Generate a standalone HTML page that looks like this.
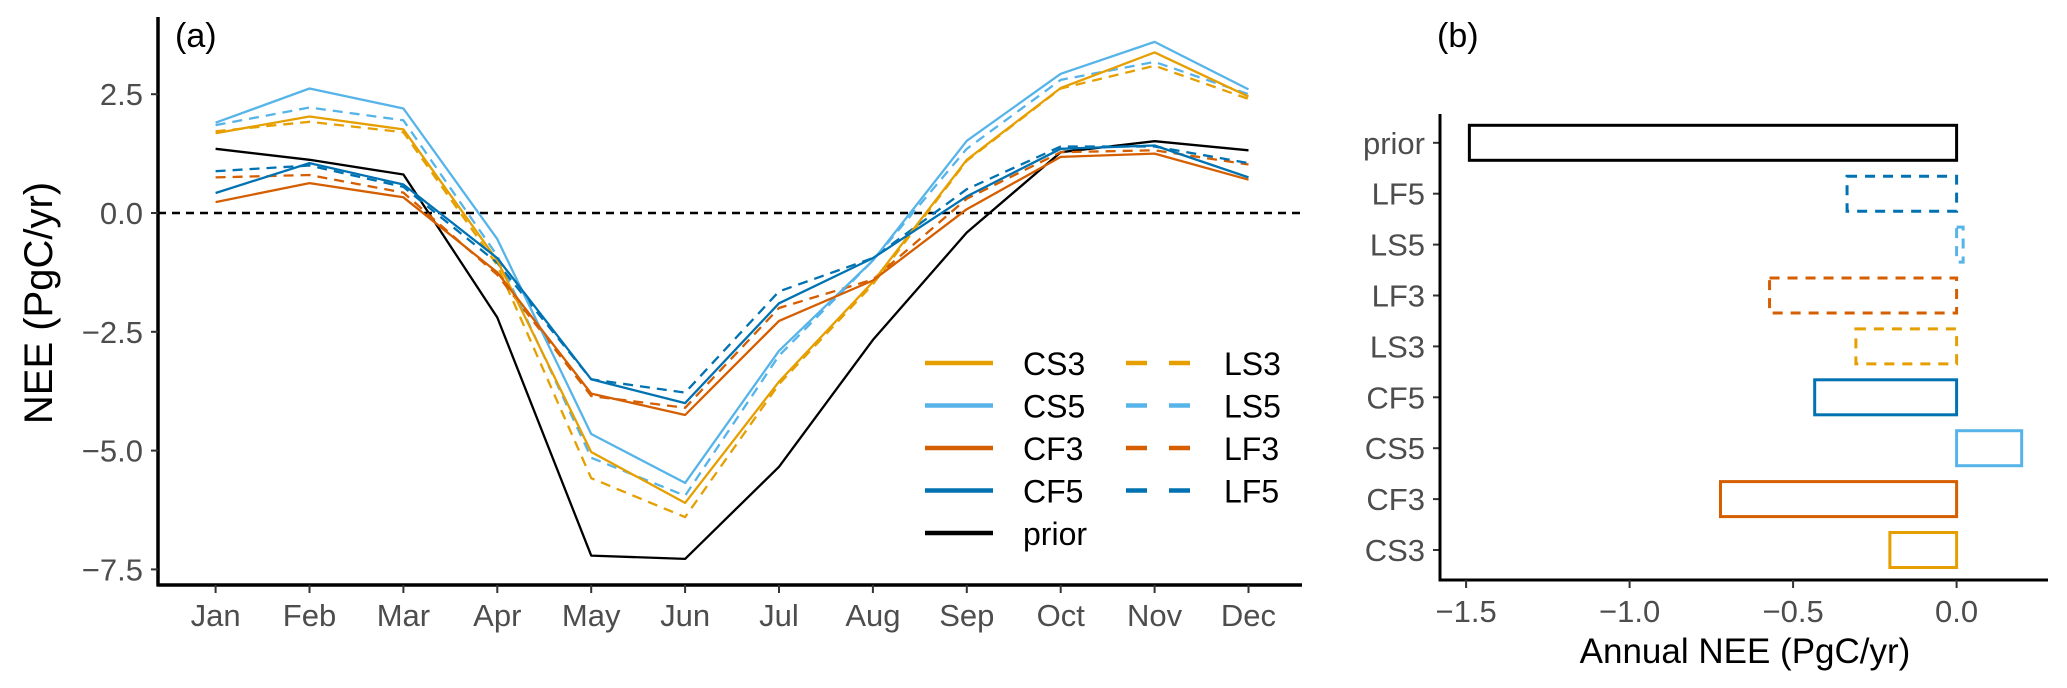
<!DOCTYPE html>
<html><head><meta charset="utf-8">
<style>
html,body{margin:0;padding:0;background:#fff;}
svg{display:block;font-family:"Liberation Sans",sans-serif;}
</style></head>
<body>
<svg id="chart" width="2067" height="688" viewBox="0 0 2067 688" xmlns="http://www.w3.org/2000/svg">
<g id="pa"></g>
<g id="pb"></g>
</svg>
<script>
const months = ["Jan","Feb","Mar","Apr","May","Jun","Jul","Aug","Sep","Oct","Nov","Dec"];
const seriesNames = ["CS3","CS5","CF3","CF5","LS3","LS5","LF3","LF5","prior"];
const prior = [1.35,1.12,0.81,-2.2,-7.21,-7.28,-5.34,-2.67,-0.41,1.28,1.51,1.32];
const cs3 = [1.68,2.03,1.76,-1.0,-5.03,-6.1,-3.55,-1.45,1.12,2.63,3.38,2.45];
const cs5 = [1.9,2.62,2.2,-0.55,-4.65,-5.68,-2.9,-1.0,1.52,2.93,3.6,2.6];
const cf3 = [0.23,0.63,0.33,-1.25,-3.8,-4.25,-2.27,-1.42,0.08,1.18,1.25,0.7];
const cf5 = [0.42,1.05,0.6,-0.95,-3.5,-4.0,-1.9,-0.95,0.35,1.35,1.42,0.75];
const ls3 = [1.72,1.92,1.7,-1.1,-5.58,-6.4,-3.6,-1.5,1.1,2.62,3.1,2.4];
const ls5 = [1.85,2.22,1.95,-0.9,-5.15,-5.95,-3.0,-1.0,1.35,2.8,3.18,2.5];
const lf3 = [0.75,0.8,0.43,-1.3,-3.85,-4.1,-2.0,-1.4,0.3,1.28,1.32,1.02];
const lf5 = [0.88,1.0,0.55,-1.05,-3.5,-3.78,-1.65,-0.95,0.5,1.4,1.4,1.05];
const yTicks = [2.5,0.0,-2.5,-5.0,-7.5];
const yTickLabels = ["2.5","0.0","\u22122.5","\u22125.0","\u22127.5"];
const barCats = ["CS3","CF3","CS5","CF5","LS3","LF3","LS5","LF5","prior"];
const barVals = [-0.204,-0.722,0.199,-0.434,-0.308,-0.572,0.02,-0.335,-1.49];
const xTicksB = [-1.5,-1.0,-0.5,0.0];
const xTickLabelsB = ["\u22121.5","\u22121.0","\u22120.5","0.0"];

const NS="http://www.w3.org/2000/svg";
function mk(parent,tag,attrs,text){const e=document.createElementNS(NS,tag);for(const k in attrs)e.setAttribute(k,attrs[k]);if(text!==undefined)e.textContent=text;parent.appendChild(e);return e;}
const colors={CS3:"#E69F00",CS5:"#56B4E9",CF3:"#D55E00",CF5:"#0072B2",LS3:"#E69F00",LS5:"#56B4E9",LF3:"#D55E00",LF5:"#0072B2",prior:"#000000"};
const dashed={LS3:true,LS5:true,LF3:true,LF5:true};
const dataMap={prior:prior,CS3:cs3,CS5:cs5,CF3:cf3,CF5:cf5,LS3:ls3,LS5:ls5,LF3:lf3,LF5:lf5};

// Panel A
const pa=document.getElementById('pa');
const ax=i=>215.6+i*93.9;
const ay=v=>213-v*(118.8/2.5);
let t;
t=mk(pa,'text',{x:175,y:47,'font-size':34,fill:'#000'},'(a)');

let z=mk(pa,'line',{x1:158,x2:1302,y1:ay(0),y2:ay(0),stroke:'#000','stroke-width':2.5,'stroke-dasharray':'8,6'});

const drawOrder=["prior","LS3","LS5","LF3","LF5","CS3","CS5","CF3","CF5"];
drawOrder.forEach(n=>{
  const d=dataMap[n].map((v,i)=>(i?'L':'M')+ax(i).toFixed(1)+','+ay(v).toFixed(1)).join(' ');
  const p=mk(pa,'path',{d:d,fill:'none',stroke:colors[n],'stroke-width':2.3,'stroke-linejoin':'round'});
  if(dashed[n])p.setAttribute('stroke-dasharray','10,7');
  
  
});
let a1=mk(pa,'line',{x1:158,x2:158,y1:17,y2:586,stroke:'#000','stroke-width':3.5});

let a2=mk(pa,'line',{x1:156.5,x2:1302,y1:585,y2:585,stroke:'#000','stroke-width':3.5});

yTicks.forEach((v,i)=>{
  const tk=mk(pa,'line',{x1:151,x2:158,y1:ay(v),y2:ay(v),stroke:'#333','stroke-width':2});
  
  const l=mk(pa,'text',{x:143,y:ay(v)+11,'font-size':31,'text-anchor':'end',fill:'#4d4d4d'},yTickLabels[i]);
  
});
months.forEach((m,i)=>{
  const tk=mk(pa,'line',{x1:ax(i),x2:ax(i),y1:585,y2:593,stroke:'#333','stroke-width':2});
  
  const l=mk(pa,'text',{x:ax(i),y:626,'font-size':31,'text-anchor':'middle',fill:'#4d4d4d'},m);
  
});
t=mk(pa,'text',{x:0,y:0,'font-size':40,'text-anchor':'middle',fill:'#000',transform:'translate(52,303) rotate(-90)'},'NEE (PgC/yr)');

const leg=mk(pa,'g',{});

const legRows=[["CS3","LS3"],["CS5","LS5"],["CF3","LF3"],["CF5","LF5"],["prior",null]];
legRows.forEach((r,i)=>{
  const y=363+i*42.5;
  r.forEach((n,j)=>{
    if(!n)return;
    const x1=j?1126:925,x2=j?1190:993,tx=j?1224:1023;
    const ln=mk(leg,'line',{x1:x1,x2:x2,y1:y,y2:y,stroke:colors[n],'stroke-width':4.5});
    if(dashed[n])ln.setAttribute('stroke-dasharray','21,22');
    
    const tx2=mk(leg,'text',{x:tx,y:y+12,'font-size':32,fill:'#000'},n);
    
  });
});

// Panel B
const pb=document.getElementById('pb');
const bx=v=>1956.6+v*(163.5/0.5);
const by=i=>550-i*50.9;
t=mk(pb,'text',{x:1437,y:47,'font-size':34,fill:'#000'},'(b)');

barCats.forEach((c,i)=>{
  const v=barVals[i];const x0=Math.min(bx(0),bx(v)),w=Math.abs(bx(v)-bx(0));
  const r=mk(pb,'rect',{x:x0,y:by(i)-17.5,width:Math.max(w,1),height:35,fill:'none',stroke:colors[c],'stroke-width':3});
  if(dashed[c])r.setAttribute('stroke-dasharray','10,8');
  
  const tk=mk(pb,'line',{x1:1433,x2:1440,y1:by(i),y2:by(i),stroke:'#333','stroke-width':2});
  
  const l=mk(pb,'text',{x:1425,y:by(i)+11,'font-size':31,'text-anchor':'end',fill:'#4d4d4d'},c);
  
});
let b1=mk(pb,'line',{x1:1440,x2:1440,y1:114,y2:581,stroke:'#000','stroke-width':3});

let b2=mk(pb,'line',{x1:1438.5,x2:2048,y1:580,y2:580,stroke:'#000','stroke-width':3});

xTicksB.forEach((v,i)=>{
  const tk=mk(pb,'line',{x1:bx(v),x2:bx(v),y1:580,y2:588,stroke:'#333','stroke-width':2});
  
  const l=mk(pb,'text',{x:bx(v),y:622,'font-size':31,'text-anchor':'middle',fill:'#4d4d4d'},xTickLabelsB[i]);
  
});
t=mk(pb,'text',{x:1745,y:663,'font-size':35,'text-anchor':'middle',fill:'#000'},'Annual NEE (PgC/yr)');

</script>
</body></html>
